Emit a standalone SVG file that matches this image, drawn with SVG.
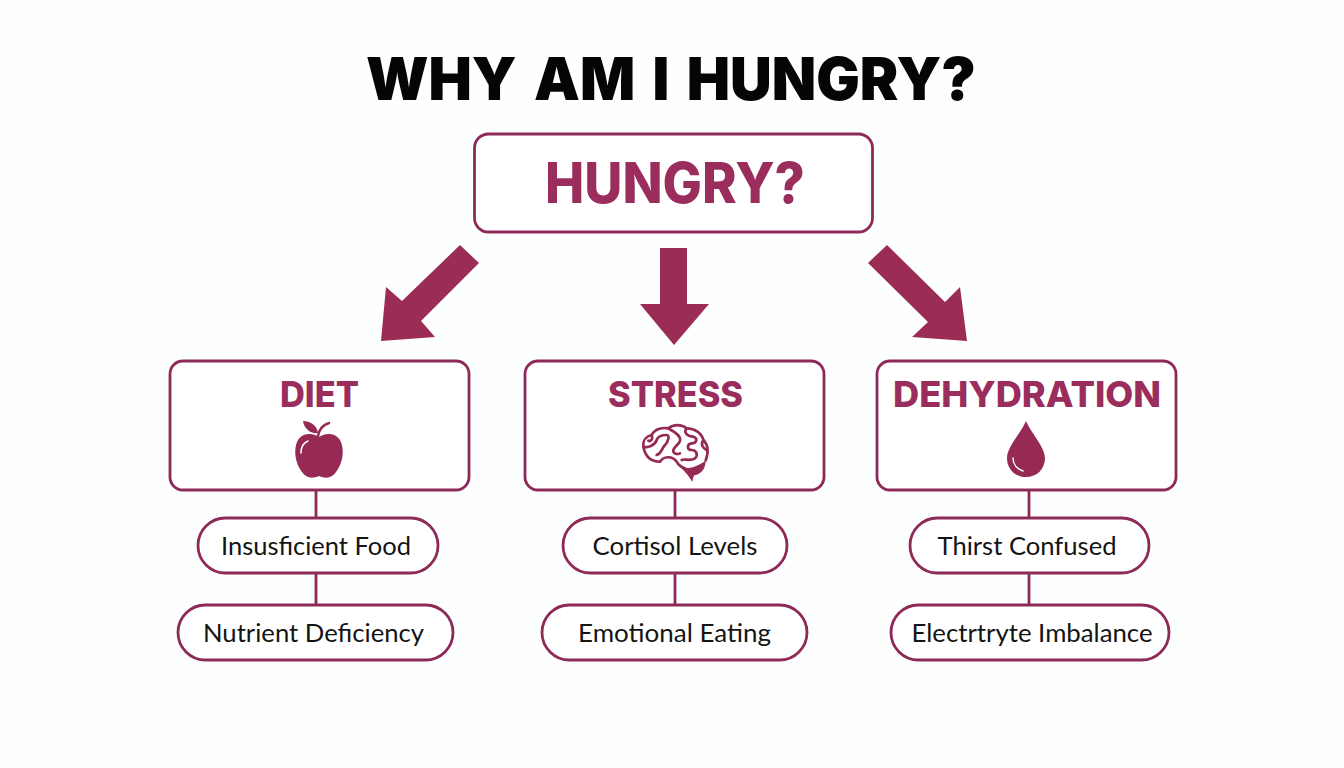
<svg xmlns="http://www.w3.org/2000/svg" width="1344" height="768" viewBox="0 0 1344 768">
<style>
.box{fill:#fff;stroke:#8e2a58;stroke-width:2.8}
.pill{fill:#fff;stroke:#8e2a58;stroke-width:2.8}
.h{font-family:Inter,"Liberation Sans",sans-serif;font-weight:800;fill:#9a2d5c;text-anchor:middle}
.p{font-family:Lato,"Open Sans",sans-serif;font-size:25.500px;fill:#141414;text-anchor:middle}
.c{stroke:#8e2a58;stroke-width:2.8;fill:none}
.a{fill:#9b2c55}
.i{fill:#962a55}
.b{fill:none;stroke:#962a55;stroke-width:8;stroke-linecap:round;stroke-linejoin:round}
</style>
<rect width="1344" height="768" fill="#fdfefe"/>
<text x="671" y="100" text-anchor="middle" font-family="Inter,'Liberation Sans',sans-serif" font-weight="900" font-size="59" word-spacing="6" fill="#050505" textLength="610" lengthAdjust="spacingAndGlyphs">WHY AM I HUNGRY?</text>
<g id="connectors">
<path class="c" d="M316 490V518M316 573V605M675 490V518M675 573V605M1029 490V518M1029 573V605"/>
<polygon class="a" points="460,245 479,263 421,321 435,337 381,341 386,287 402,301"/>
<polygon class="a" points="660,248 687,248 687,304 709,304 674,345 640,304 660,304"/>
<polygon class="a" points="887,245 868,263 928,322 912,337 967,341 960,287 945,302"/>
</g>
<g id="node-hungry"><rect class="box" x="474.500" y="134" width="398" height="98" rx="14"/><text class="h" x="675" y="203" font-size="56" textLength="260" lengthAdjust="spacingAndGlyphs">HUNGRY?</text></g>
<g id="node-diet"><rect class="box" x="170" y="361" width="299" height="129" rx="13"/><text class="h" x="319.500" y="407" font-size="36" textLength="79" lengthAdjust="spacingAndGlyphs">DIET</text>
<path class="i" d="M319 437C312 432 302 433 298 440C293 449 295 463 302 472C306 478 312 479 319 476C326 479 332 478 336 472C343 463 345 449 340 440C336 433 326 432 319 437Z"/>
<path class="i" d="M303 421C310 421 317 425 318 433C311 434 304 429 303 421Z"/>
<path d="M318 436C319 430 323 425 329 423" fill="none" stroke="#962a55" stroke-width="2.500" stroke-linecap="round"/>
<path d="M301 453C301 447 303 443 308 441" fill="none" stroke="#fff" stroke-width="1.500" stroke-linecap="round"/></g>
<g id="node-stress"><rect class="box" x="525" y="361" width="299" height="129" rx="13"/><text class="h" x="675.500" y="407" font-size="36" textLength="135" lengthAdjust="spacingAndGlyphs">STRESS</text>
<g transform="translate(640 420) scale(.3333)">
<path class="i" d="M120 140C145 150 170 140 197 122C197 150 178 165 162 166L156 186C150 170 135 155 120 140Z"/>
<path class="b" d="M60 125C30 125 15 105 10 80C8 60 20 48 35 45C45 25 70 22 85 25C100 12 125 12 140 25C165 25 185 40 190 60C205 75 205 100 197 122M60 125C70 110 95 105 110 125C115 135 120 140 135 145"/>
<path class="b" d="M35 45C40 60 30 65 25 62M10 80C25 85 45 75 50 60C55 45 70 45 80 45C90 45 85 65 75 75C65 85 65 100 50 105M85 25C100 35 115 40 120 55C125 70 105 75 100 90C98 100 110 105 120 100M140 25C130 35 140 50 160 50C175 55 170 70 155 70C140 72 140 90 155 90C170 90 175 105 165 115C150 125 135 115 125 120M190 60C180 75 190 85 200 90"/>
</g></g>
<g id="node-dehydration"><rect class="box" x="877" y="361" width="299" height="129" rx="13"/><text class="h" x="1027" y="407" font-size="36" textLength="268" lengthAdjust="spacingAndGlyphs">DEHYDRATION</text>
<path class="i" d="M1026 421C1021 433 1007 447 1007 458C1007 469 1015 477 1026 477C1037 477 1045 469 1045 458C1045 447 1031 433 1026 421Z"/>
<path d="M1013 458C1013 464 1017 469 1023 471" fill="none" stroke="#fff" stroke-width="1.500" stroke-linecap="round"/></g>
<g id="node-insufficient"><rect class="pill" x="198" y="518" width="240" height="55" rx="27.500"/><text class="p" x="316" y="555" textLength="190" lengthAdjust="spacingAndGlyphs">Insusficient Food</text></g>
<g id="node-nutrient"><rect class="pill" x="178" y="605" width="275" height="55" rx="27.500"/><text class="p" x="313.500" y="642" textLength="221" lengthAdjust="spacingAndGlyphs">Nutrient Deficiency</text></g>
<g id="node-cortisol"><rect class="pill" x="563" y="518" width="224" height="55" rx="27.500"/><text class="p" x="675" y="555" textLength="165" lengthAdjust="spacingAndGlyphs">Cortisol Levels</text></g>
<g id="node-emotional"><rect class="pill" x="542" y="605" width="265" height="55" rx="27.500"/><text class="p" x="674.500" y="642" textLength="193" lengthAdjust="spacingAndGlyphs">Emotional Eating</text></g>
<g id="node-thirst"><rect class="pill" x="910" y="518" width="239" height="55" rx="27.500"/><text class="p" x="1027" y="555" textLength="179" lengthAdjust="spacingAndGlyphs">Thirst Confused</text></g>
<g id="node-electrolyte"><rect class="pill" x="891" y="605" width="278" height="55" rx="27.500"/><text class="p" x="1032" y="642" textLength="241" lengthAdjust="spacingAndGlyphs">Electrtryte Imbalance</text></g>
</svg>
